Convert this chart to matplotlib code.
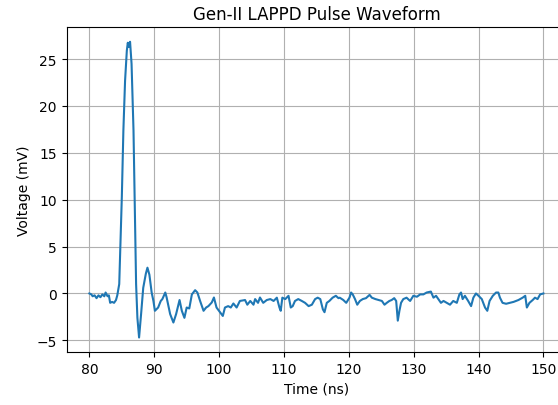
import numpy as np
import matplotlib
matplotlib.use("Agg")
import matplotlib.pyplot as plt

# 采样时间 (ns) 与对应电压 (mV)
time_ns = [
    80.0, 80.3, 80.5, 80.8, 81.1, 81.4, 81.7, 82.0, 82.3, 82.5,
    82.8, 83.0, 83.2, 83.5, 83.8, 84.1, 84.3, 84.45, 84.6, 84.8,
    85.0, 85.24, 85.5, 85.77, 85.92, 86.07, 86.27, 86.5, 86.8, 87.05,
    87.2, 87.4, 87.66, 87.97, 88.3, 88.7, 88.95, 89.25, 89.6, 89.87,
    90.1, 90.6, 91.0, 91.25, 91.7, 91.9, 92.45, 92.95, 93.37, 93.9,
    94.25, 94.65, 95.0, 95.4, 95.8, 96.3, 96.65, 97.07, 97.6, 98.0,
    98.35, 98.87, 99.2, 99.6, 100.15, 100.57, 100.9, 101.4, 101.8, 102.2,
    102.7, 103.2, 104.0, 104.35, 104.8, 105.3, 105.55, 106.0, 106.3, 106.8,
    107.35, 107.9, 108.4, 108.9, 109.3, 109.5, 109.75, 110.2, 110.7, 111.05,
    111.35, 111.7, 112.2, 112.75, 113.25, 113.8, 114.3, 114.8, 115.2, 115.6,
    116.0, 116.25, 116.6, 117.0, 117.5, 118.0, 118.4, 118.6, 119.15, 119.6,
    120.1, 120.35, 120.6, 120.95, 121.3, 121.7, 122.15, 122.65, 123.2, 123.55,
    124.1, 124.6, 125.1, 125.5, 125.85, 126.25, 126.6, 127.0, 127.3, 127.55,
    127.8, 128.05, 128.4, 128.9, 129.45, 129.95, 130.5, 131.0, 131.5, 132.0,
    132.65, 133.05, 133.45, 133.8, 134.2, 134.6, 135.1, 135.6, 136.1, 136.65,
    137.05, 137.3, 137.55, 137.9, 138.4, 138.85, 139.2, 139.6, 140.0, 140.5,
    141.0, 141.35, 141.7, 142.2, 142.7, 143.05, 143.3, 143.7, 144.25, 144.85,
    145.4, 146.15, 146.8, 147.2, 147.45, 147.85, 148.35, 148.7, 149.1, 149.5,
    150.0,
]
voltage_mv = [
    0.0, -0.1, -0.3, -0.2, -0.5, -0.2, -0.4, -0.1, -0.3, 0.1,
    -0.3, -0.2, -1.0, -0.9, -1.0, -0.7, -0.2, 0.4, 1.0, 5.5,
    10.3, 17.4, 22.7, 25.9, 26.75, 26.3, 26.85, 24.5, 17.4, 6.7,
    1.0, -2.6, -4.7, -2.2, 0.6, 2.1, 2.75, 2.0, 0.1, -0.8,
    -1.85, -1.5, -0.8, -0.6, 0.1, -0.4, -2.2, -3.1, -2.2, -0.7,
    -1.85, -2.6, -1.5, -1.6, -0.1, 0.35, 0.1, -0.8, -1.85, -1.5,
    -1.35, -0.96, -0.43, -1.5, -2.0, -2.4, -1.5, -1.35, -1.5, -1.07,
    -1.5, -0.8, -0.7, -1.2, -0.8, -1.2, -0.6, -1.0, -0.43, -1.0,
    -0.7, -0.6, -0.8, -0.45, -1.5, -1.85, -0.45, -0.6, -0.25, -1.5,
    -1.35, -0.8, -0.6, -0.8, -1.0, -1.35, -1.2, -0.6, -0.45, -0.6,
    -1.7, -2.0, -1.0, -0.8, -0.45, -0.25, -0.5, -0.45, -0.7, -1.0,
    -0.45, 0.1, -0.1, -0.6, -1.2, -0.8, -0.6, -0.5, -0.15, -0.45,
    -0.6, -0.7, -0.8, -1.2, -1.0, -0.8, -0.7, -0.5, -0.8, -2.9,
    -1.85, -1.0, -0.6, -0.45, -0.8, -0.25, -0.35, -0.1, -0.1, 0.1,
    0.2, -0.45, -0.25, -0.6, -1.0, -0.8, -1.0, -1.2, -0.8, -1.0,
    -0.1, 0.1, -0.6, -0.25, -0.8, -1.35, -0.45, 0.0, -0.25, -0.6,
    -1.5, -1.85, -0.8, -0.25, 0.1, 0.1, -0.45, -1.0, -1.1, -1.0,
    -0.9, -0.7, -0.45, -0.25, -1.5, -1.0, -0.7, -0.45, -0.6, -0.1,
    0.0,
]

fig = plt.figure(figsize=(5.58, 4.06), dpi=100)
# 坐标区右侧略超出画布
ax = fig.add_axes([66.7 / 558, 52.7 / 406, 499.4 / 558, 325.3 / 406])

# 绘制脉冲波形
ax.plot(time_ns, voltage_mv)
ax.set_title("Gen-II LAPPD Pulse Waveform")
ax.set_xlabel("Time (ns)")
ax.set_ylabel("Voltage (mV)")
# 添加网格线
ax.grid(True)

fig.savefig("out.png", dpi=100)
